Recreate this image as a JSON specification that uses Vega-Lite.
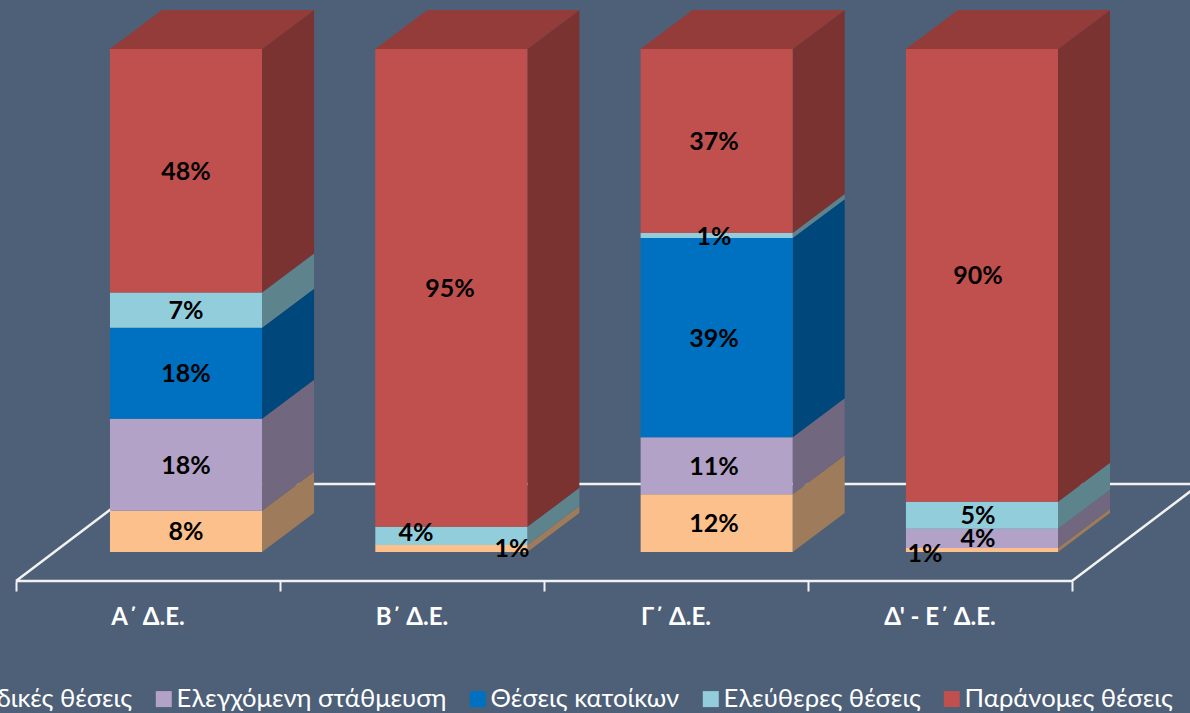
{
"$schema":"https://vega.github.io/schema/vega-lite/v6.json",
"width":1190,"height":581,"padding":{"left":0,"top":0,"right":0,"bottom":132},"autosize":{"type":"none"},
"background":"#4E5F78",
"config":{"view":{"stroke":null}},
"data":{"values":[
 {"cat":"Α΄ Δ.Ε.","idx":0,"series":"Ειδικές θέσεις","order":1,"value":8.2,"label":"8%"},
 {"cat":"Α΄ Δ.Ε.","idx":0,"series":"Ελεγχόμενη στάθμευση","order":2,"value":18.3,"label":"18%"},
 {"cat":"Α΄ Δ.Ε.","idx":0,"series":"Θέσεις κατοίκων","order":3,"value":18.1,"label":"18%"},
 {"cat":"Α΄ Δ.Ε.","idx":0,"series":"Ελεύθερες θέσεις","order":4,"value":7,"label":"7%"},
 {"cat":"Α΄ Δ.Ε.","idx":0,"series":"Παράνομες θέσεις","order":5,"value":48.4,"label":"48%"},
 {"cat":"Β΄ Δ.Ε.","idx":1,"series":"Ειδικές θέσεις","order":1,"value":1.4,"label":"1%"},
 {"cat":"Β΄ Δ.Ε.","idx":1,"series":"Ελεύθερες θέσεις","order":4,"value":3.6,"label":"4%"},
 {"cat":"Β΄ Δ.Ε.","idx":1,"series":"Παράνομες θέσεις","order":5,"value":95,"label":"95%"},
 {"cat":"Γ΄ Δ.Ε.","idx":2,"series":"Ειδικές θέσεις","order":1,"value":11.5,"label":"12%"},
 {"cat":"Γ΄ Δ.Ε.","idx":2,"series":"Ελεγχόμενη στάθμευση","order":2,"value":11.3,"label":"11%"},
 {"cat":"Γ΄ Δ.Ε.","idx":2,"series":"Θέσεις κατοίκων","order":3,"value":39.6,"label":"39%"},
 {"cat":"Γ΄ Δ.Ε.","idx":2,"series":"Ελεύθερες θέσεις","order":4,"value":1,"label":"1%"},
 {"cat":"Γ΄ Δ.Ε.","idx":2,"series":"Παράνομες θέσεις","order":5,"value":36.6,"label":"37%"},
 {"cat":"Δ' - Ε΄ Δ.Ε.","idx":3,"series":"Ειδικές θέσεις","order":1,"value":0.8,"label":"1%"},
 {"cat":"Δ' - Ε΄ Δ.Ε.","idx":3,"series":"Ελεγχόμενη στάθμευση","order":2,"value":3.8,"label":"4%"},
 {"cat":"Δ' - Ε΄ Δ.Ε.","idx":3,"series":"Ελεύθερες θέσεις","order":4,"value":5.4,"label":"5%"},
 {"cat":"Δ' - Ε΄ Δ.Ε.","idx":3,"series":"Παράνομες θέσεις","order":5,"value":90,"label":"90%"}
]},
"transform":[
  {"window":[{"op":"sum","field":"value","as":"y1"}],"groupby":["cat"],"sort":[{"field":"order","order":"ascending"}]},
  {"calculate":"datum.y1-datum.value","as":"y0"},
  {"calculate":"datum.idx*1.005+0.356","as":"x0"},
  {"calculate":"datum.x0+0.197","as":"xm"},
  {"calculate":"datum.x0+0.576","as":"x1"},
  {"calculate":"datum.x1+0.197","as":"x2"},
  {"calculate":"(datum.y0+datum.y1)/2","as":"ymid"},
  {"calculate":"datum.idx+0.644","as":"xlab"},
  {"calculate":"datum.idx+0.5","as":"xcat"},
  {"calculate":"-13.1","as":"ycat"}
],
"layer":[
  {"data":{"values":[{"n":1,"fx":0,"fy":-5.77},{"n":2,"fx":0.485,"fy":13.5},{"n":3,"fx":4.485,"fy":13.5},{"n":4,"fx":4,"fy":-5.77},{"n":5,"fx":0,"fy":-5.77}]},
   "mark":{"type":"line","color":"#F2F2F2","strokeWidth":2.5},
   "encoding":{
    "x":{"field":"fx","type":"quantitative","title":null,"scale":{"domain":[-0.0606,4.447],"nice":false,"zero":false},
     "axis":{"values":[0,1,2,3,4],"domain":false,"grid":false,"tickColor":"#F2F2F2","tickWidth":2,"tickSize":10,"labels":false,"title":null}},
    "y":{"field":"fy","type":"quantitative","title":null,"scale":{"domain":[-5.77,109.74],"nice":false,"zero":false},"axis":null},
    "order":{"field":"n","type":"quantitative"}}},
  {"transform":[
    {"fold":["x1","x2"],"as":["k","sx"]},
    {"calculate":"datum.y0+(datum.k=='x2'?7.75:0)","as":"lo"},
    {"calculate":"datum.y1+(datum.k=='x2'?7.75:0)","as":"hi"}],
   "mark":{"type":"area","orient":"vertical"},
   "encoding":{
    "x":{"field":"sx","type":"quantitative","title":null},
    "y":{"field":"lo","type":"quantitative","axis":null},
    "y2":{"field":"hi"},
    "detail":{"field":"cat"},
    "fill":{"field":"series","type":"nominal","legend":null,
     "scale":{"domain":["Παράνομες θέσεις","Ελεύθερες θέσεις","Θέσεις κατοίκων","Ελεγχόμενη στάθμευση","Ειδικές θέσεις"],
      "range":["#7B3331","#5D838C","#00477B","#71677F","#9E7C5B"]}}}},
  {"transform":[
    {"filter":"datum.order==5"},
    {"fold":["x0","xm","x1","x2"],"as":["k","tx"]},
    {"calculate":"datum.y1+(datum.k=='x2'?7.75:0)","as":"tlo"},
    {"calculate":"datum.y1+(datum.k=='x0'?0:7.75)","as":"thi"}],
   "mark":{"type":"area","orient":"vertical","color":"#933C3A"},
   "encoding":{
    "x":{"field":"tx","type":"quantitative","title":null},
    "y":{"field":"tlo","type":"quantitative","axis":null},
    "y2":{"field":"thi"},
    "detail":{"field":"cat"}}},
  {"mark":{"type":"rect"},
   "encoding":{
    "x":{"field":"x0","type":"quantitative","title":null},
    "x2":{"field":"x1"},
    "y":{"field":"y0","type":"quantitative","axis":null},
    "y2":{"field":"y1"},
    "color":{"field":"series","type":"nominal",
     "scale":{"domain":["Ειδικές θέσεις","Ελεγχόμενη στάθμευση","Θέσεις κατοίκων","Ελεύθερες θέσεις","Παράνομες θέσεις"],
      "range":["#FBC08C","#B2A2C7","#0070C0","#92CDDC","#C0504D"]},
     "legend":{"title":null,"orient":"none","legendX":-50,"legendY":686,"direction":"horizontal","columns":5,"columnPadding":18,
      "symbolType":"square","symbolSize":256,"symbolStrokeWidth":0,"symbolOpacity":1,"labelFont":"Lato","labelFontSize":25.6,"labelColor":"#FFFFFF","labelLimit":400,"labelOffset":0}}}},
  {"transform":[{"filter":"datum.order==5"}],
   "mark":{"type":"text","font":"Lato","fontWeight":"bold","fontSize":24,"color":"#FFFFFF"},
   "encoding":{"x":{"field":"xcat","type":"quantitative","title":null},"y":{"field":"ycat","type":"quantitative","axis":null},"text":{"field":"cat","type":"nominal"}}},
  {"transform":[{"filter":"!((datum.idx==1&&datum.order<5)||(datum.idx==3&&datum.order==1))"}],
   "mark":{"type":"text","font":"Lato","fontWeight":"bold","fontSize":25,"color":"#000000","dy":1},
   "encoding":{"x":{"field":"xlab","type":"quantitative","title":null},"y":{"field":"ymid","type":"quantitative","axis":null},"text":{"field":"label","type":"nominal"}}},
  {"transform":[{"filter":"datum.idx==1&&datum.order==1"}],
   "mark":{"type":"text","font":"Lato","fontWeight":"bold","fontSize":25,"color":"#000000","dx":62,"dy":1},
   "encoding":{"x":{"field":"xlab","type":"quantitative","title":null},"y":{"field":"ymid","type":"quantitative","axis":null},"text":{"field":"label","type":"nominal"}}},
  {"transform":[{"filter":"datum.idx==1&&datum.order==4"}],
   "mark":{"type":"text","font":"Lato","fontWeight":"bold","fontSize":25,"color":"#000000","dx":-34,"dy":-3},
   "encoding":{"x":{"field":"xlab","type":"quantitative","title":null},"y":{"field":"ymid","type":"quantitative","axis":null},"text":{"field":"label","type":"nominal"}}},
  {"transform":[{"filter":"datum.idx==3&&datum.order==1"}],
   "mark":{"type":"text","font":"Lato","fontWeight":"bold","fontSize":25,"color":"#000000","dx":-53,"dy":4},
   "encoding":{"x":{"field":"xlab","type":"quantitative","title":null},"y":{"field":"ymid","type":"quantitative","axis":null},"text":{"field":"label","type":"nominal"}}}
]
}
